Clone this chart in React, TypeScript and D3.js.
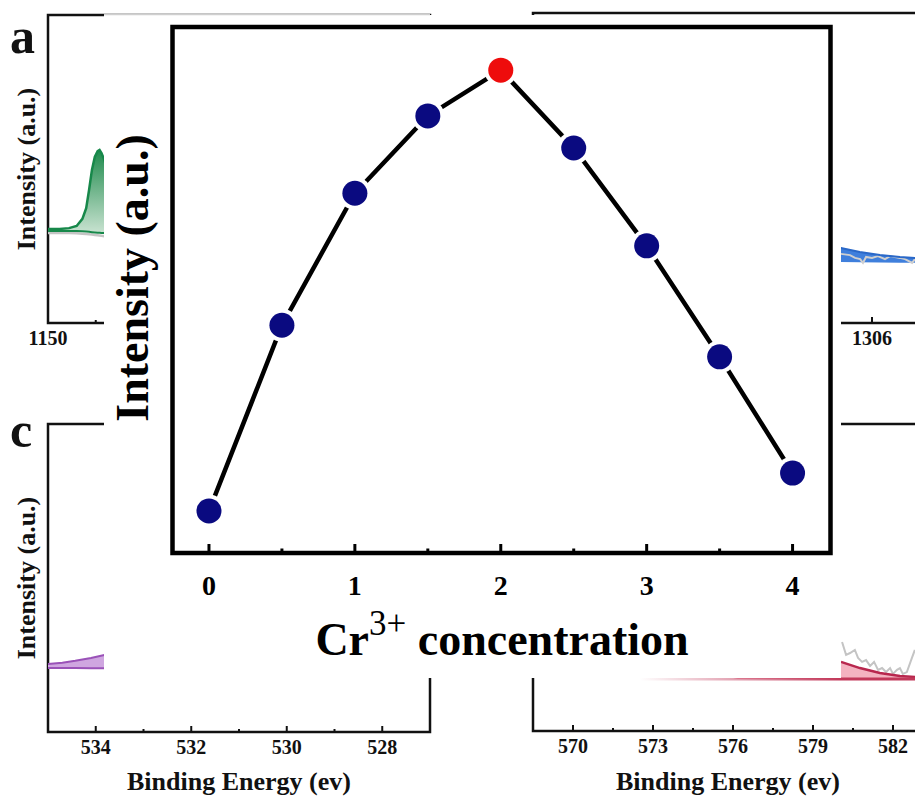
import React from "react";
import * as d3 from "d3";

const W = 915;
const H = 798;
const SERIF = "'Liberation Serif', 'Times New Roman', serif";

// main plot: Cr3+ concentration vs intensity
const crConc = [0, 0.5, 1, 1.5, 2, 2.5, 3, 3.5, 4];
const intensity = [8.0, 43.3, 68.4, 83.1, 91.8, 77.0, 58.4, 37.3, 15.2];
const peakIndex = 4;
const xMajor = [0, 1, 2, 3, 4];
const xMinor = [0.5, 1.5, 2.5, 3.5];

// background panel a (green)
const aEnergy = [1150, 1150.6, 1151.1, 1151.5, 1151.8, 1152.0, 1152.15, 1152.3, 1152.45, 1152.6, 1152.7, 1152.8, 1152.95, 1153.2];
const aFit = [30.5, 30.5, 30.8, 31.5, 33.8, 37.3, 43.2, 49.7, 53.9, 55.8, 56.2, 55.2, 52.9, 48.0];
const aBase = [29.9, 29.9, 29.9, 29.9, 29.8, 29.7, 29.6, 29.5, 29.4, 29.3, 29.3, 29.2, 29.2, 29.1];
const aRaw = [29.2, 29.2, 29.2, 29.1, 29.0, 28.9, 28.8, 28.7, 28.6, 28.5, 28.4, 28.3, 28.2, 28.1];
const aMajor = [1150, 1155, 1160, 1165, 1170];
const aMinor = [1152.5, 1157.5, 1162.5, 1167.5];

// background panel b (blue)
const bEnergy = [1304.6, 1304.9, 1305.57, 1306.28, 1306.99, 1307.52, 1307.8];
const bFit = [24.6, 24.2, 22.9, 21.9, 21.3, 21.0, 20.9];
const bBase = [19.8, 19.7, 19.6, 19.5, 19.4, 19.4, 19.4];
const bRawEnergy = [1304.9, 1305.22, 1305.4, 1305.58, 1305.68, 1305.79, 1306.0, 1306.21, 1306.46, 1306.64, 1306.99, 1307.17, 1307.42, 1307.52];
const bRaw = [22.3, 21.9, 21.0, 20.6, 19.4, 21.3, 21.0, 21.6, 20.6, 21.6, 21.0, 20.6, 19.4, 20.6];
const bMajor = [1298, 1302, 1306, 1310];
const bMinor = [1300, 1304, 1308];

// background panel c (purple)
const cEnergy = [535, 534.7, 534.43, 534.1, 533.82, 533.6];
const cFit = [22.1, 22.5, 23.1, 24.0, 25.0, 25.5];
const cBase = [20.8, 20.8, 20.8, 20.7, 20.7, 20.6];
const cMajor = [534, 532, 530, 528];
const cMinor = [533, 531, 529];

// background panel d (red)
const dEnergy = [572.5, 576, 579.6, 580.05, 580.76, 581.51, 582.26, 582.82, 583.2];
const dFit = [16.9, 16.9, 23.5, 22.5, 20.5, 18.9, 17.9, 17.6, 17.5];
const dBase = [16.9, 16.9, 16.9, 16.9, 16.9, 16.9, 16.9, 16.9, 16.9];
const dRawEnergy = [580.09, 580.24, 580.39, 580.57, 580.69, 580.84, 580.99, 581.14, 581.29, 581.44, 581.59, 581.74, 581.89, 582.0, 582.15, 582.26, 582.37, 582.52, 582.71, 582.82];
const dRaw = [29.0, 24.8, 25.4, 26.4, 23.8, 22.5, 23.1, 21.2, 22.5, 19.9, 20.5, 19.2, 20.5, 18.6, 19.9, 20.5, 18.6, 19.2, 23.8, 26.4];
const dMajor = [570, 573, 576, 579, 582];
const dMinor = [571.5, 574.5, 577.5, 580.5, 583.5];

type Panel = {
  left: number;
  top: number;
  right: number;
  bottom: number;
  x: d3.ScaleLinear<number, number>;
  y: d3.ScaleLinear<number, number>;
};

const makePanel = (left: number, top: number, right: number, bottom: number, xDom: [number, number], xRight: number): Panel => ({
  left,
  top,
  right,
  bottom,
  x: d3.scaleLinear().domain(xDom).range([left, xRight]),
  y: d3.scaleLinear().domain([0, 100]).range([bottom, top]),
});

const pa = makePanel(48, 15, 430, 323, [1150, 1170], 430);
const pb = makePanel(533, 13, 1000, 323, [1294, 1310], 985);
const pc = makePanel(48, 424, 430, 732, [535, 527], 430);
const pd = makePanel(533, 424, 1000, 731, [568.5, 585], 973);

const Frame = ({ p, major, minor }: { p: Panel; major: number[]; minor: number[] }) => (
  <g>
    <rect x={p.left} y={p.top} width={p.right - p.left} height={p.bottom - p.top} fill="none" stroke="#111" strokeWidth={2.5} />
    {major.map((t) => (
      <line key={"M" + t} x1={p.x(t)} x2={p.x(t)} y1={p.bottom} y2={p.bottom - 6} stroke="#111" strokeWidth={2} />
    ))}
    {minor.map((t) => (
      <line key={"m" + t} x1={p.x(t)} x2={p.x(t)} y1={p.bottom} y2={p.bottom - 3} stroke="#111" strokeWidth={2} />
    ))}
    {major
      .filter((t) => p.x(t) < W)
      .map((t) => (
        <text key={"L" + t} x={p.x(t)} y={p.bottom + 22} textAnchor="middle" fontFamily={SERIF} fontWeight="bold" fontSize={20} fill="#111">
          {t}
        </text>
      ))}
  </g>
);

const linePath = (p: Panel, xs: number[], ys: number[]) =>
  d3.line<number>().x((_, i) => p.x(xs[i])).y((v) => p.y(v))(ys) || "";

const bandPath = (p: Panel, xs: number[], hi: number[], lo: number[]) =>
  d3
    .area<number>()
    .x((_, i) => p.x(xs[i]))
    .y0((_, i) => p.y(lo[i]))
    .y1((v) => p.y(v))(hi) || "";

const App = () => {
  const margin = { top: 27, right: 84.5, bottom: 245, left: 172.5 };
  const x = d3.scaleLinear().domain([-0.25, 4.26]).range([margin.left, W - margin.right]);
  const y = d3.scaleLinear().domain([0, 100]).range([H - margin.bottom, margin.top]);
  const plotW = W - margin.right - margin.left;
  const plotH = H - margin.bottom - margin.top;

  const mainLine = d3
    .line<number>()
    .x((_, i) => x(crConc[i]))
    .y((v) => y(v))(intensity) || "";

  return (
    <svg width={W} height={H} style={{ position: "absolute", left: 0, top: 0, background: "#fff" }}>
      <defs>
        <linearGradient id="greenFill" x1="0" y1="0" x2="0" y2="1">
          <stop offset="0%" stopColor="#1e8a4c" />
          <stop offset="100%" stopColor="#c9e3d1" />
        </linearGradient>
        <linearGradient id="redBase" x1="640" y1="0" x2="841" y2="0" gradientUnits="userSpaceOnUse">
          <stop offset="0%" stopColor="#c2385a" stopOpacity={0} />
          <stop offset="100%" stopColor="#c2385a" stopOpacity={1} />
        </linearGradient>
      </defs>

      {/* background XPS panels */}
      <Frame p={pa} major={aMajor} minor={aMinor} />
      <Frame p={pb} major={bMajor} minor={bMinor} />
      <Frame p={pc} major={cMajor} minor={cMinor} />
      <Frame p={pd} major={dMajor} minor={dMinor} />

      <path d={linePath(pa, aEnergy, aRaw)} fill="none" stroke="#c4c4c4" strokeWidth={2.5} />
      <path d={bandPath(pa, aEnergy, aFit, aBase)} fill="url(#greenFill)" />
      <path d={linePath(pa, aEnergy, aFit)} fill="none" stroke="#17884a" strokeWidth={2.5} />
      <path d={linePath(pa, aEnergy, aBase)} fill="none" stroke="#17884a" strokeWidth={2} />

      <path d={bandPath(pb, bEnergy, bFit, bBase)} fill="#3f7fdc" />
      <path d={linePath(pb, bRawEnergy, bRaw)} fill="none" stroke="#cfcfcf" strokeWidth={2} />
      <path d={linePath(pb, bEnergy, bFit)} fill="none" stroke="#2a68c8" strokeWidth={2} />

      <path d={bandPath(pc, cEnergy, cFit, cBase)} fill="#cfa6e0" />
      <path d={linePath(pc, cEnergy, cFit)} fill="none" stroke="#9a52b8" strokeWidth={2} />
      <path d={linePath(pc, cEnergy, cBase)} fill="none" stroke="#9a52b8" strokeWidth={2} />

      <path d={bandPath(pd, dEnergy, dFit, dBase)} fill="#f4b3c1" />
      <path d={linePath(pd, dRawEnergy, dRaw)} fill="none" stroke="#c4c4c4" strokeWidth={2} />
      <path d={linePath(pd, dEnergy.slice(3), dFit.slice(3))} fill="none" stroke="#b8274e" strokeWidth={2.5} />
      <path d={linePath(pd, dEnergy, dBase)} fill="none" stroke="url(#redBase)" strokeWidth={3} />

      <text x={10} y={53} fontFamily={SERIF} fontWeight="bold" fontSize={50} fill="#111">a</text>
      <text x={10} y={447} fontFamily={SERIF} fontWeight="bold" fontSize={50} fill="#111">c</text>
      {[169, 578].map((cy) => (
        <text key={cy} transform={`translate(35,${cy}) rotate(-90)`} textAnchor="middle" fontFamily={SERIF} fontWeight="bold" fontSize={26} fill="#111">
          Intensity (a.u.)
        </text>
      ))}
      {[239, 728].map((cx) => (
        <text key={cx} x={cx} y={790} textAnchor="middle" fontFamily={SERIF} fontWeight="bold" fontSize={26} fill="#111">
          Binding Energy (ev)
        </text>
      ))}

      {/* white sheet holding the main plot */}
      <rect x={104} y={15} width={737} height={663} fill="#fff" />
      <line x1={104} x2={430} y1={14.5} y2={14.5} stroke="#cfcfcf" strokeWidth={1.5} />

      {/* main plot */}
      <path d={mainLine} fill="none" stroke="#000" strokeWidth={4.5} />
      {intensity.map((v, i) => (
        <circle key={"h" + i} cx={x(crConc[i])} cy={y(v)} r={16.5} fill="#fff" />
      ))}
      {intensity.map((v, i) => (
        <circle key={"p" + i} cx={x(crConc[i])} cy={y(v)} r={12.5} fill={i === peakIndex ? "#ee0c0c" : "#0a0a80"} />
      ))}

      <rect x={margin.left} y={margin.top} width={plotW} height={plotH} fill="none" stroke="#000" strokeWidth={4.5} />
      {xMajor.map((t) => (
        <line key={"xM" + t} x1={x(t)} x2={x(t)} y1={y(0)} y2={y(0) - 9} stroke="#000" strokeWidth={3} />
      ))}
      {xMinor.map((t) => (
        <line key={"xm" + t} x1={x(t)} x2={x(t)} y1={y(0)} y2={y(0) - 4.5} stroke="#000" strokeWidth={3} />
      ))}
      {xMajor.map((t) => (
        <text key={"xl" + t} x={x(t)} y={595} textAnchor="middle" fontFamily={SERIF} fontWeight="bold" fontSize={28} fill="#000">
          {t}
        </text>
      ))}

      <text transform="translate(148,278) rotate(-90)" textAnchor="middle" fontFamily={SERIF} fontWeight="bold" fontSize={46} fill="#000">
        Intensity (a.u.)
      </text>
      <text x={502} y={655} textAnchor="middle" fontFamily={SERIF} fontWeight="bold" fontSize={46} fill="#000">
        Cr
        <tspan dy={-20} fontSize={35} fontWeight="normal">3+</tspan>
        <tspan dy={20}>{" concentration"}</tspan>
      </text>
    </svg>
  );
};

export default App;
